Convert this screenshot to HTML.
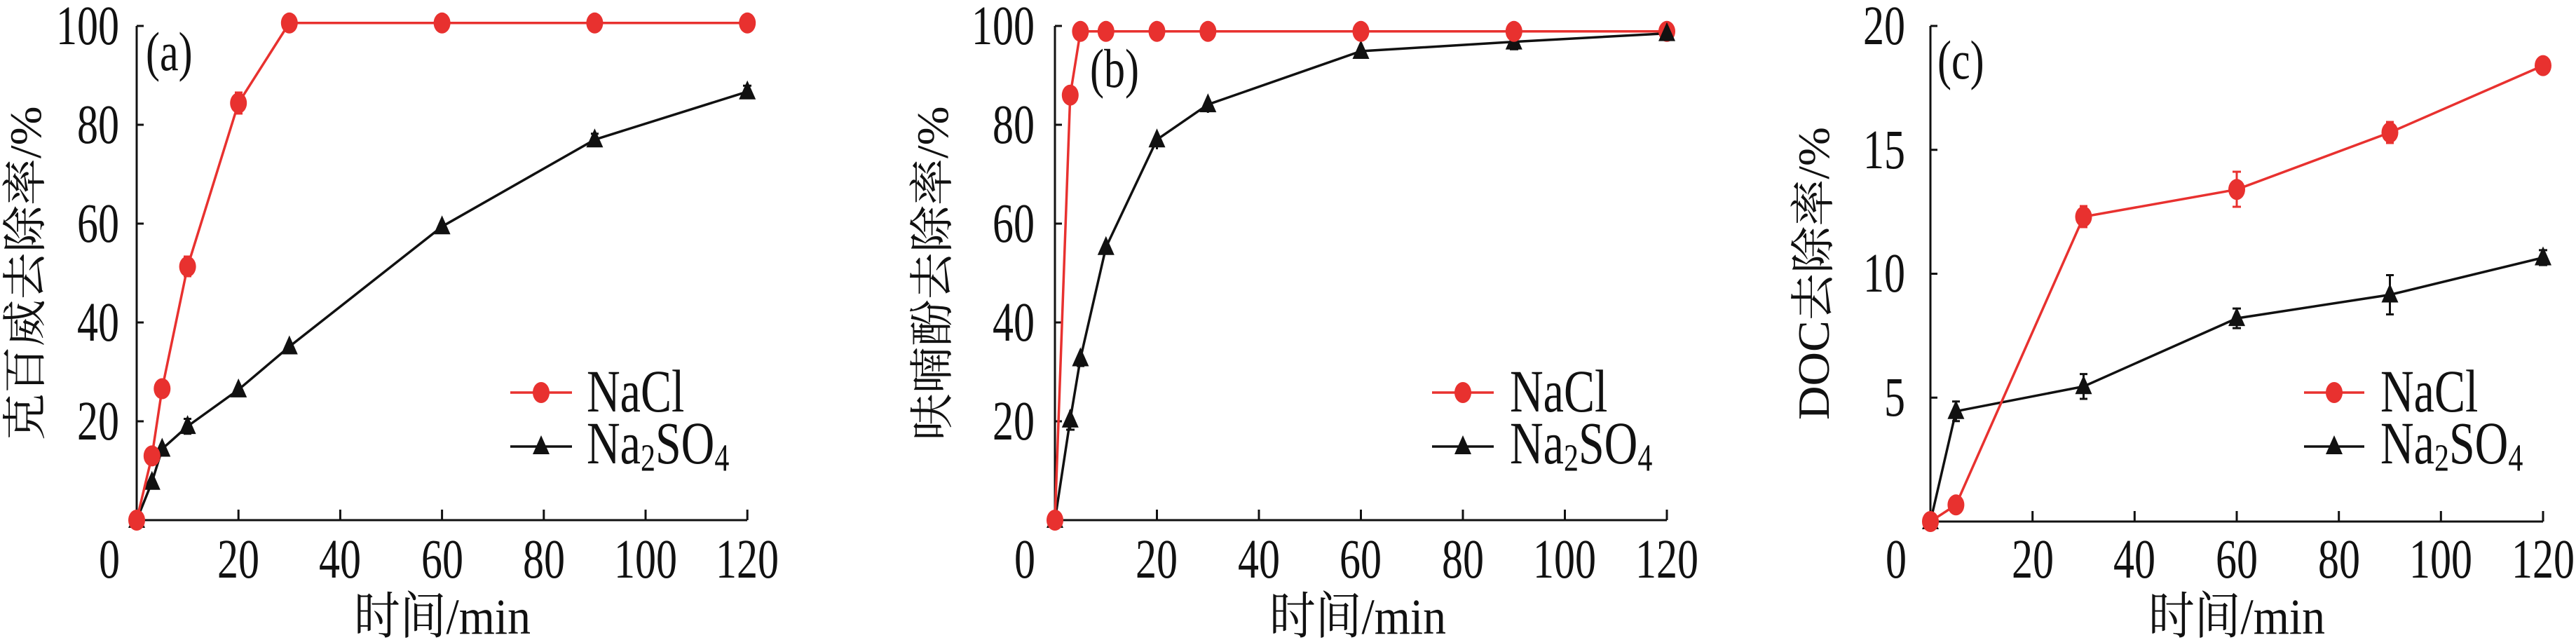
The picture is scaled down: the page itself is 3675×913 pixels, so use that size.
<!DOCTYPE html>
<html><head><meta charset="utf-8"><style>
html,body{margin:0;padding:0;background:#fff;}
svg{display:block;}
text{font-family:"Liberation Serif","Noto Serif CJK SC","Noto Sans CJK SC",serif;fill:#111;}
</style></head><body>
<svg width="3675" height="913" viewBox="0 0 3675 913" xmlns="http://www.w3.org/2000/svg">
<defs>
<path id="tri" d="M0,-16 L12,11 L-12,11Z" fill="#111"/>
</defs>

<!-- ================= Panel A ================= -->
<g stroke="#111" stroke-width="3" fill="none">
<path d="M195,37 V742 H1066"/>
<path d="M195,601 h10 M195,460 h10 M195,319 h10 M195,178 h10 M195,37 h10"/>
<path d="M340.2,742 v-15 M485.4,742 v-15 M630.6,742 v-15 M775.8,742 v-15 M921,742 v-15 M1066.2,742 v-15"/>
</g>
<g font-size="60" text-anchor="end">
<text transform="translate(170,627) scale(1,1.32)">20</text><text transform="translate(170,486) scale(1,1.32)">40</text><text transform="translate(170,345) scale(1,1.32)">60</text><text transform="translate(170,204) scale(1,1.32)">80</text><text transform="translate(170,63) scale(1,1.32)">100</text>
</g>
<g font-size="60" text-anchor="middle" transform="translate(0,824) scale(1,1.32)">
<text x="156" y="0">0</text><text x="340" y="0">20</text><text x="485" y="0">40</text><text x="631" y="0">60</text><text x="776" y="0">80</text><text x="921" y="0">100</text><text x="1066" y="0">120</text>
</g>
<text transform="translate(631,904) scale(1,1.25)" font-size="58" text-anchor="middle" textLength="252" lengthAdjust="spacingAndGlyphs">时间/min</text>
<text transform="translate(58,390) rotate(-90)" font-size="64" text-anchor="middle" textLength="477" lengthAdjust="spacingAndGlyphs">克百威去除率/%</text>
<text transform="translate(208,100) scale(1,1.3)" font-size="60">(a)</text>
<polyline fill="none" stroke="#111" stroke-width="3.5" points="195,742 216.8,687.7 231.3,640.5 267.6,608.1 340.2,555.9 412.8,494.5 630.6,323.2 848.4,199.2 1066.2,130.8"/>
<g stroke="#111" stroke-width="3"><path d="M267.6,597.5 v21.2 M262,597.5 h11 M262,618.7 h11 M848.4,190.7 v17 M843,190.7 h11 M843,207.7 h11 M1066.2,122.3 v17 M1060,122.3 h12 M1060,139.3 h12"/></g>
<g><use href="#tri" x="195" y="742"/><use href="#tri" x="216.8" y="687.7"/><use href="#tri" x="231.3" y="640.5"/><use href="#tri" x="267.6" y="608.1"/><use href="#tri" x="340.2" y="555.9"/><use href="#tri" x="412.8" y="494.5"/><use href="#tri" x="630.6" y="323.2"/><use href="#tri" x="848.4" y="199.2"/><use href="#tri" x="1066.2" y="130.8"/></g>
<polyline fill="none" stroke="#e8312f" stroke-width="3.5" points="195,742 216.8,650.4 231.3,554.5 267.6,380.3 340.2,147 412.8,32.8 630.6,32.8 848.4,32.8 1066.2,32.8"/>
<g stroke="#e8312f" stroke-width="3"><path d="M267.6,366 v28 M262,366 h11 M262,394 h11 M340.2,132 v30 M335,132 h11 M335,162 h11"/></g>
<g fill="#e8312f"><ellipse cx="195" cy="742" rx="12" ry="15"/><ellipse cx="216.8" cy="650.4" rx="12" ry="15"/><ellipse cx="231.3" cy="554.5" rx="12" ry="15"/><ellipse cx="267.6" cy="380.3" rx="12" ry="15"/><ellipse cx="340.2" cy="147" rx="12" ry="15"/><ellipse cx="412.8" cy="32.8" rx="12" ry="15"/><ellipse cx="630.6" cy="32.8" rx="12" ry="15"/><ellipse cx="848.4" cy="32.8" rx="12" ry="15"/><ellipse cx="1066.2" cy="32.8" rx="12" ry="15"/></g>
<path d="M728,560 H816" stroke="#e8312f" stroke-width="3.5"/><ellipse cx="772" cy="560" rx="12" ry="15" fill="#e8312f"/>
<path d="M728,637 H816" stroke="#111" stroke-width="3.5"/><use href="#tri" x="772" y="637"/>
<text transform="translate(837,587) scale(1,1.3)" font-size="66">NaCl</text>
<text transform="translate(837,661) scale(1,1.3)" font-size="66">Na<tspan font-size="42" dy="8">2</tspan><tspan dy="-8">SO</tspan><tspan font-size="42" dy="8">4</tspan></text>

<!-- ================= Panel B ================= -->
<g stroke="#111" stroke-width="3" fill="none">
<path d="M1505,37 V742 H2378"/>
<path d="M1505,601 h10 M1505,460 h10 M1505,319 h10 M1505,178 h10 M1505,37 h10"/>
<path d="M1650.5,742 v-15 M1796,742 v-15 M1941.5,742 v-15 M2087,742 v-15 M2232.5,742 v-15 M2378,742 v-15"/>
</g>
<g font-size="60" text-anchor="end">
<text transform="translate(1476,627) scale(1,1.32)">20</text><text transform="translate(1476,486) scale(1,1.32)">40</text><text transform="translate(1476,345) scale(1,1.32)">60</text><text transform="translate(1476,204) scale(1,1.32)">80</text><text transform="translate(1476,63) scale(1,1.32)">100</text>
</g>
<g font-size="60" text-anchor="middle" transform="translate(0,824) scale(1,1.32)">
<text x="1462" y="0">0</text><text x="1650" y="0">20</text><text x="1796" y="0">40</text><text x="1941" y="0">60</text><text x="2087" y="0">80</text><text x="2232" y="0">100</text><text x="2378" y="0">120</text>
</g>
<text transform="translate(1937,904) scale(1,1.25)" font-size="58" text-anchor="middle" textLength="252" lengthAdjust="spacingAndGlyphs">时间/min</text>
<text transform="translate(1352,390) rotate(-90)" font-size="64" text-anchor="middle" textLength="477" lengthAdjust="spacingAndGlyphs">呋喃酚去除率/%</text>
<text transform="translate(1555,124) scale(1,1.3)" font-size="60">(b)</text>
<polyline fill="none" stroke="#111" stroke-width="3.5" points="1505,742 1526.8,598.9 1541.4,511.5 1577.8,352.8 1650.5,199.2 1723.3,149.1 1941.5,73 2159.8,59.6 2378,47.6"/>
<g stroke="#111" stroke-width="3"><path d="M1526.8,584.8 v28.2 M1521,613 h12 M1541.4,500.9 v21.2 M1536,522.1 h11 M1941.5,63.8 v18.4 M1936,82.2 h11 M2159.8,49 v21.2 M2154,70.2 h12 M2378,40 v16 M1650.5,207 v6 M1723.3,155 v6"/></g>
<g><use href="#tri" x="1505" y="742"/><use href="#tri" x="1526.8" y="598.9"/><use href="#tri" x="1541.4" y="511.5"/><use href="#tri" x="1577.8" y="352.8"/><use href="#tri" x="1650.5" y="199.2"/><use href="#tri" x="1723.3" y="149.1"/><use href="#tri" x="1941.5" y="73"/><use href="#tri" x="2159.8" y="59.6"/></g>
<polyline fill="none" stroke="#e8312f" stroke-width="3.5" points="1505,742 1526.8,135.7 1541.4,44.8 1577.8,44.8 1650.5,44.8 1723.3,44.8 1941.5,44.8 2159.8,44.8 2378,44.8"/>
<g fill="#e8312f"><ellipse cx="1505" cy="742" rx="12" ry="15"/><ellipse cx="1526.8" cy="135.7" rx="12" ry="15"/><ellipse cx="1541.4" cy="44.8" rx="12" ry="15"/><ellipse cx="1577.8" cy="44.8" rx="12" ry="15"/><ellipse cx="1650.5" cy="44.8" rx="12" ry="15"/><ellipse cx="1723.3" cy="44.8" rx="12" ry="15"/><ellipse cx="1941.5" cy="44.8" rx="12" ry="15"/><ellipse cx="2159.8" cy="44.8" rx="12" ry="15"/><ellipse cx="2378" cy="44.8" rx="12" ry="15"/></g>
<use href="#tri" x="2378" y="47.6"/>
<path d="M2043,560 H2131" stroke="#e8312f" stroke-width="3.5"/><ellipse cx="2087" cy="560" rx="12" ry="15" fill="#e8312f"/>
<path d="M2043,637 H2131" stroke="#111" stroke-width="3.5"/><use href="#tri" x="2087" y="637"/>
<text transform="translate(2154,587) scale(1,1.3)" font-size="66">NaCl</text>
<text transform="translate(2154,661) scale(1,1.3)" font-size="66">Na<tspan font-size="42" dy="8">2</tspan><tspan dy="-8">SO</tspan><tspan font-size="42" dy="8">4</tspan></text>

<!-- ================= Panel C ================= -->
<g stroke="#111" stroke-width="3" fill="none">
<path d="M2754,37 V744 H3628"/>
<path d="M2754,567.2 h10 M2754,390.5 h10 M2754,213.7 h10 M2754,37 h10"/>
<path d="M2899.7,744 v-15 M3045.3,744 v-15 M3191,744 v-15 M3336.7,744 v-15 M3482.3,744 v-15 M3628,744 v-15"/>
</g>
<g font-size="60" text-anchor="end">
<text transform="translate(2718,593) scale(1,1.32)">5</text><text transform="translate(2718,416) scale(1,1.32)">10</text><text transform="translate(2718,240) scale(1,1.32)">15</text><text transform="translate(2718,63) scale(1,1.32)">20</text>
</g>
<g font-size="60" text-anchor="middle" transform="translate(0,824) scale(1,1.32)">
<text x="2705" y="0">0</text><text x="2900" y="0">20</text><text x="3045" y="0">40</text><text x="3191" y="0">60</text><text x="3337" y="0">80</text><text x="3482" y="0">100</text><text x="3628" y="0">120</text>
</g>
<text transform="translate(3191,904) scale(1,1.25)" font-size="58" text-anchor="middle" textLength="252" lengthAdjust="spacingAndGlyphs">时间/min</text>
<text transform="translate(2609,390) rotate(-90)" font-size="64" text-anchor="middle" textLength="418" lengthAdjust="spacingAndGlyphs">DOC去除率/%</text>
<text transform="translate(2764,112) scale(1,1.3)" font-size="60">(c)</text>
<polyline fill="none" stroke="#111" stroke-width="3.5" points="2754,744 2790.4,586.7 2972.5,551.3 3191,454.1 3409.5,420.5 3628,367.5"/>
<g stroke="#111" stroke-width="3"><path d="M2790.4,572.7 v28 M2785,600.7 h11 M2785,572.7 h11 M2972.5,533.6 v35.4 M2967,533.6 h11 M2967,569 h11 M3191,440.1 v28 M3185,440.1 h12 M3185,468.1 h12 M3409.5,392.5 v56 M3404,392.5 h11 M3404,448.5 h11 M3628,356.9 v21.2 M3622,356.9 h12 M3622,378.1 h12"/></g>
<g><use href="#tri" x="2754" y="744"/><use href="#tri" x="2790.4" y="586.7"/><use href="#tri" x="2972.5" y="551.3"/><use href="#tri" x="3191" y="454.1"/><use href="#tri" x="3409.5" y="420.5"/><use href="#tri" x="3628" y="367.5"/></g>
<polyline fill="none" stroke="#e8312f" stroke-width="3.5" points="2754,744 2790.4,720.3 2972.5,309.2 3191,270.3 3409.5,189 3628,93.6"/>
<g stroke="#e8312f" stroke-width="3"><path d="M2972.5,294 v30 M2967,294 h11 M2967,324 h11 M3191,245 v50 M3185,245 h12 M3185,295 h12 M3409.5,174 v30 M3404,174 h11 M3404,204 h11"/></g>
<g fill="#e8312f"><ellipse cx="2754" cy="744" rx="12" ry="15"/><ellipse cx="2790.4" cy="720.3" rx="12" ry="15"/><ellipse cx="2972.5" cy="309.2" rx="12" ry="15"/><ellipse cx="3191" cy="270.3" rx="12" ry="15"/><ellipse cx="3409.5" cy="189" rx="12" ry="15"/><ellipse cx="3628" cy="93.6" rx="12" ry="15"/></g>
<path d="M3287,560 H3373" stroke="#e8312f" stroke-width="3.5"/><ellipse cx="3330" cy="560" rx="12" ry="15" fill="#e8312f"/>
<path d="M3287,637 H3373" stroke="#111" stroke-width="3.5"/><use href="#tri" x="3330" y="637"/>
<text transform="translate(3396,587) scale(1,1.3)" font-size="66">NaCl</text>
<text transform="translate(3396,661) scale(1,1.3)" font-size="66">Na<tspan font-size="42" dy="8">2</tspan><tspan dy="-8">SO</tspan><tspan font-size="42" dy="8">4</tspan></text>
</svg>
</body></html>
